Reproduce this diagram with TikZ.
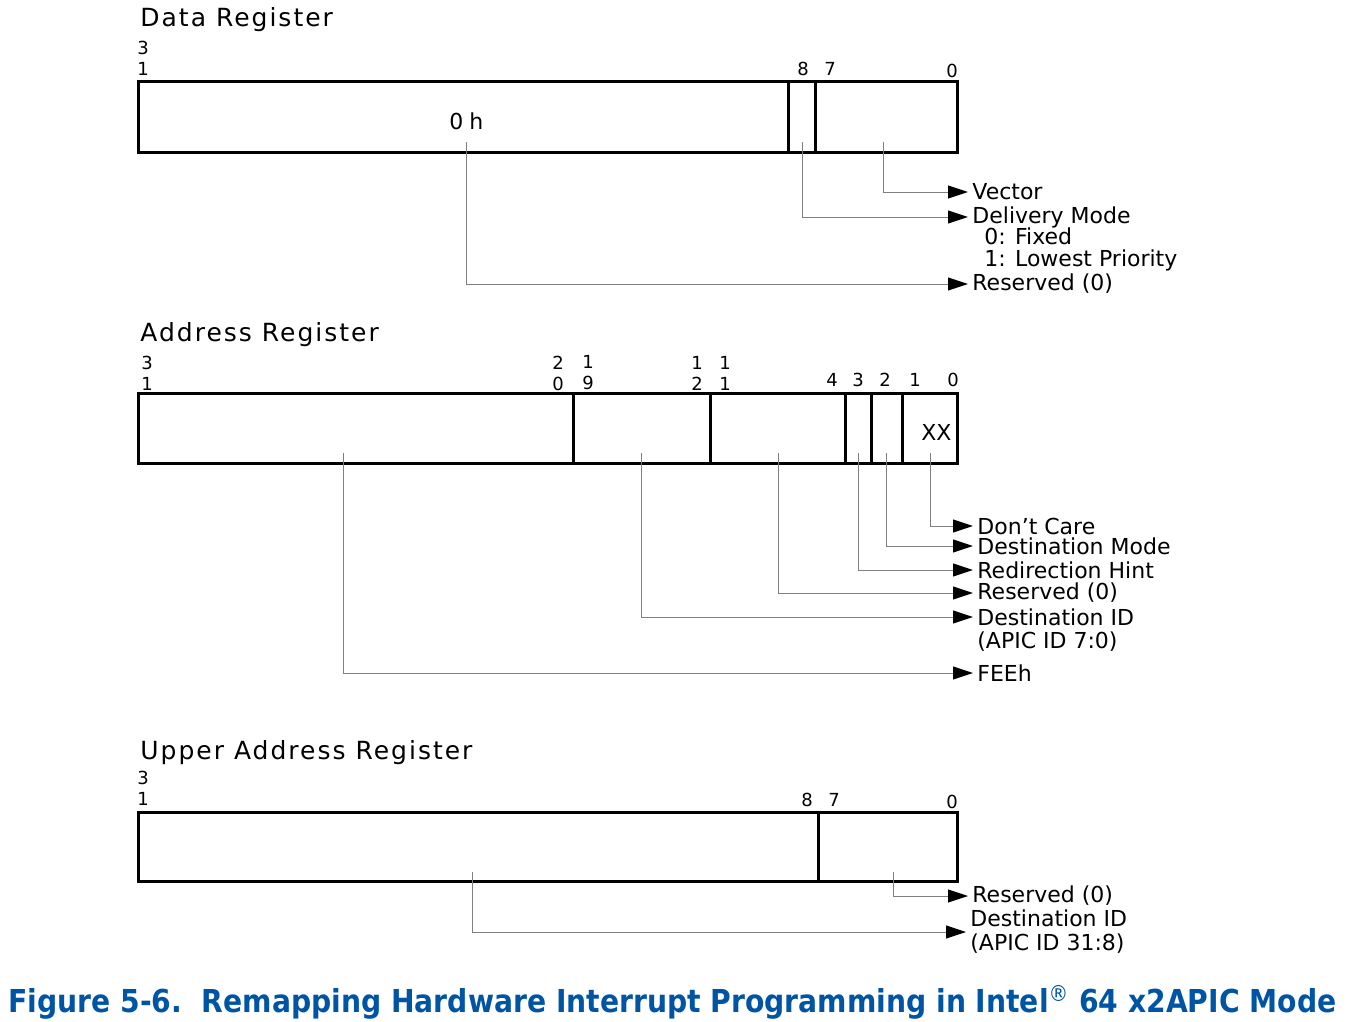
\documentclass[tikz,border=0pt]{standalone}
\usepackage{fontspec}
\setmainfont{DejaVu Sans}
\usetikzlibrary{arrows.meta}
\definecolor{capblue}{RGB}{0,84,164}
\begin{document}
\begin{tikzpicture}[x=0.5pt, y=-0.5pt,
  reg/.style = {draw, line width=1.5pt},
  bit/.style = {font=\fontsize{9}{10.5}\selectfont, inner sep=0pt, align=center},
  title/.style = {font={\fontsize{12.5}{15}\selectfont\addfontfeature{LetterSpace=8}}, anchor=base west, inner sep=0pt},
  lbl/.style = {font=\fontsize{11}{12}\selectfont, anchor=west, inner xsep=2pt, inner ysep=0pt, align=left},
  lead/.style = {draw=gray, line width=0.5pt, -{Triangle[length=10pt, width=6.5pt, color=black]}}]
\useasboundingbox (0,0) rectangle (1354,1022);

\node[title] (t1) at (140,27) {Data Register};
\node[bit] (d31) at (143,58) {3\\1};
\node[bit] (d8) at (803,69) {8};
\node[bit] (d7) at (830,69) {7};
\node[bit] (d0) at (952,71) {0};
\draw[reg] (138,82) rectangle (957,152);
\draw[reg] (788,82) -- (788,152);
\draw[reg] (815,82) -- (815,152);
\node[lbl, inner xsep=0pt] (oh) at (449,121) {0\kern3pt h};
\coordinate (dv) at (883,142);
\coordinate (dm) at (802,142);
\coordinate (dr) at (466,142);
\node[lbl] (vec) at (968,192) {Vector};
\node[lbl] (del) at (968,217) {Delivery Mode};
\node[lbl] (fix) at (980,236) {0: Fixed};
\node[lbl] (low) at (980,260) {1: Lowest Priority};
\node[lbl] (res1) at (968,284) {Reserved (0)};
\draw[lead] (dv) |- (vec.west);
\draw[lead] (dm) |- (del.west);
\draw[lead] (dr) |- (res1.west);

\node[title] (t2) at (140,341) {Address Register};
\node[bit] (a31) at (147,373) {3\\1};
\node[bit] (a20) at (558,373) {2\\0};
\node[bit] (a19) at (588,373) {1\\9};
\node[bit] (a12) at (697,373) {1\\2};
\node[bit] (a11) at (725,373) {1\\1};
\node[bit] (a4) at (832,380) {4};
\node[bit] (a3) at (858,380) {3};
\node[bit] (a2) at (885,380) {2};
\node[bit] (a1) at (915,380) {1};
\node[bit] (a0) at (953,380) {0};
\draw[reg] (138,393) rectangle (957,463);
\foreach \x in {573,710,845,871,902}
  \draw[reg] (\x,393) -- (\x,463);
\node[lbl, inner xsep=0pt] (xx) at (921,432) {XX};
\coordinate (ax) at (930,453);
\coordinate (am) at (886,453);
\coordinate (ah) at (858,453);
\coordinate (ar) at (778,453);
\coordinate (ai) at (641,453);
\coordinate (af) at (343,453);
\node[lbl] (dc) at (973,526) {Don’t Care};
\node[lbl] (dmo) at (973,546) {Destination Mode};
\node[lbl] (rh) at (973,570) {Redirection Hint};
\node[lbl] (res2) at (973,593) {Reserved (0)};
\node[lbl] (did) at (973,617) {Destination ID};
\node[lbl] (apic) at (973,642) {(APIC ID 7:0)};
\node[lbl] (fee) at (973,673) {FEEh};
\draw[lead] (ax) |- (dc.west);
\draw[lead] (am) |- (dmo.west);
\draw[lead] (ah) |- (rh.west);
\draw[lead] (ar) |- (res2.west);
\draw[lead] (ai) |- (did.west);
\draw[lead] (af) |- (fee.west);

\node[title] (t3) at (140,759) {Upper Address Register};
\node[bit] (u31) at (143,788) {3\\1};
\node[bit] (u8) at (807,800) {8};
\node[bit] (u7) at (834,800) {7};
\node[bit] (u0) at (952,802) {0};
\draw[reg] (138,812) rectangle (957,881);
\draw[reg] (818,812) -- (818,881);
\coordinate (ur) at (893,872);
\coordinate (ui) at (472,872);
\node[lbl] (res3) at (968,896) {Reserved (0)};
\node[lbl] (uid) at (966,932) {Destination ID\\(APIC ID 31:8)};
\draw[lead] (ur) |- (res3.west);
\draw[lead] (ui) |- (uid.west);

\node[anchor=base west, inner sep=0pt, text=capblue, font=\fontsize{15.8}{18}\selectfont\bfseries] (cap) at (8,1012)
  {\resizebox{664pt}{\height}{Figure 5-6.\ \ Remapping Hardware Interrupt Programming in Intel\textsuperscript{\normalfont ®} 64 x2APIC Mode}};
\end{tikzpicture}
\end{document}
